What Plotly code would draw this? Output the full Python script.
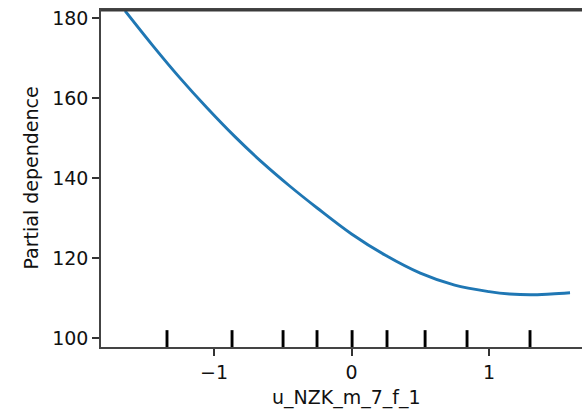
import plotly.graph_objects as go

# Partial dependence curve
grid_x = [-1.647, -1.45, -1.25, -1.05, -0.85, -0.65, -0.45, -0.25, 0.0, 0.25,
          0.5, 0.75, 1.0, 1.15, 1.3, 1.45, 1.589]
pd_values = [181.8, 173.3, 165.1, 157.5, 150.4, 143.9, 138.0, 132.5, 126.0, 120.6,
             116.2, 113.2, 111.6, 111.0, 110.8, 111.0, 111.3]

# Deciles of the feature (rug marks)
deciles = [-1.342, -0.869, -0.498, -0.251, 0.004, 0.258, 0.535, 0.840, 1.298]

x_ticks = [-1, 0, 1]
y_ticks = [100, 120, 140, 160, 180]

feature_name = "u_NZK_m_7_f_1"
y_title = "Partial dependence"

FONT = "DejaVu Sans"
FS = 19

fig = go.Figure()
fig.add_trace(go.Scatter(x=grid_x, y=pd_values, mode="lines",
                         line=dict(color="#1f77b4", width=2.9, shape="spline"),
                         showlegend=False, hoverinfo="skip"))

for d in deciles:
    fig.add_shape(type="line", xref="x", yref="y domain", x0=d, x1=d, y0=0, y1=0.05,
                  line=dict(color="black", width=2.9))

# top spine
fig.add_shape(type="line", xref="paper", yref="paper", x0=0, x1=1,
              ysizemode="pixel", yanchor=1, y0=-0.5, y1=-0.5,
              line=dict(color="#3a3a3a", width=2), layer="above")

fig.update_layout(
    width=582, height=417,
    margin=dict(l=101, r=0, t=10, b=70, autoexpand=False),
    paper_bgcolor="white", plot_bgcolor="white",
    font=dict(family=FONT, size=FS, color="#111"),
    showlegend=False,
)
fig.update_xaxes(range=[-1.822, 1.676], tickvals=x_ticks, ticks="outside", ticklen=7,
                 tickwidth=1.5, tickcolor="#333", showline=True, linecolor="#444",
                 linewidth=1.6, mirror=True, showgrid=False, zeroline=False,
                 automargin=False, ticklabeloverflow="allow",
                 tickfont=dict(family=FONT, size=FS, color="#111"))
fig.update_yaxes(range=[97.75, 182.0], tickvals=y_ticks, ticks="outside", ticklen=7,
                 tickwidth=1.5, tickcolor="#333", showline=True, linecolor="#444",
                 linewidth=1.6, mirror=False, showgrid=False, zeroline=False,
                 automargin=False, ticklabeloverflow="allow",
                 tickfont=dict(family=FONT, size=FS, color="#111"))

fig.add_annotation(text=feature_name, xref="paper", yref="paper", x=0.51, y=0,
                   yshift=-37, xanchor="center", yanchor="top", showarrow=False,
                   font=dict(family=FONT, size=FS, color="#111"))
fig.add_annotation(text=y_title, xref="paper", yref="paper", x=-0.1476, y=0.5,
                   xanchor="center", yanchor="middle", textangle=-90, showarrow=False,
                   font=dict(family=FONT, size=FS, color="#111"))

fig.write_html("out.html", config={"displayModeBar": False},
               post_script="document.body.style.margin='0';document.body.style.overflow='hidden';")
